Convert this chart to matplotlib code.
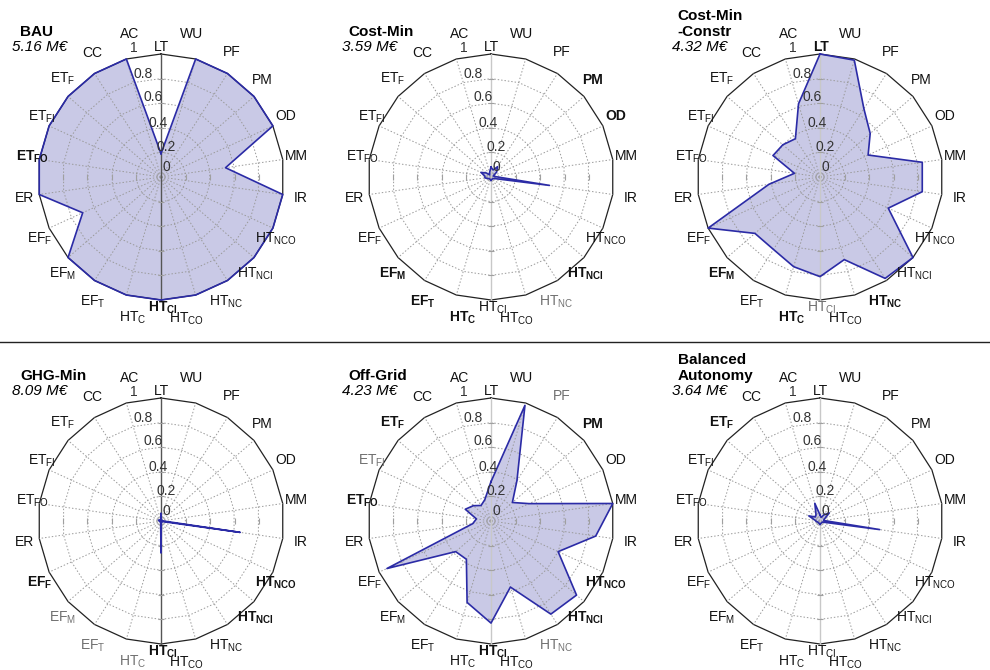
import numpy as np
import matplotlib
matplotlib.use("Agg")
import matplotlib.pyplot as plt
from matplotlib.lines import Line2D

plt.rcParams['font.family'] = ['Liberation Sans', 'DejaVu Sans']
plt.rcParams['mathtext.fontset'] = 'custom'
plt.rcParams['mathtext.rm'] = 'Liberation Sans'
plt.rcParams['mathtext.it'] = 'Liberation Sans:italic'
plt.rcParams['mathtext.bf'] = 'Liberation Sans:bold'

# ---------------- data ----------------
categories = ['LT', 'WU', 'PF', 'PM', 'OD', 'MM', 'IR',
              r'HT$_\mathregular{NCO}$', r'HT$_\mathregular{NCI}$', r'HT$_\mathregular{NC}$',
              r'HT$_\mathregular{CO}$', r'HT$_\mathregular{CI}$', r'HT$_\mathregular{C}$',
              r'EF$_\mathregular{T}$', r'EF$_\mathregular{M}$', r'EF$_\mathregular{F}$', 'ER',
              r'ET$_\mathregular{FO}$', r'ET$_\mathregular{FI}$', r'ET$_\mathregular{F}$', 'CC', 'AC']

titles = ['BAU', 'Cost-Min', 'Cost-Min\n-Constr', 'GHG-Min', 'Off-Grid', 'Balanced\nAutonomy']
costs = [5.16, 3.59, 4.32, 8.09, 4.23, 3.64]

bau = [0.19, 1.00, 1.00, 1.00, 1.00, 0.53, 1.00, 1.00, 1.00, 1.00, 1.00,
       1.00, 1.00, 1.00, 1.00, 0.70, 1.00, 1.00, 1.00, 1.00, 1.00, 1.00]
cost_min = [0.08, 0.06, 0.10, 0.06, 0.02, 0.03, 0.48, 0.03, 0.02, 0.02, 0.02,
            0.03, 0.02, 0.02, 0.02, 0.03, 0.05, 0.05, 0.09, 0.05, 0.02, 0.04]
cost_min_constr = [1.00, 0.99, 0.66, 0.54, 0.43, 0.84, 0.84, 0.61, 1.00, 0.98, 0.70,
                   0.81, 0.76, 0.70, 0.70, 1.00, 0.42, 0.21, 0.42, 0.40, 0.37, 0.62]
ghg_min = [0.06, 0.01, 0.01, 0.01, 0.01, 0.01, 0.65, 0.01, 0.01, 0.01, 0.01,
           0.26, 0.01, 0.01, 0.01, 0.01, 0.01, 0.02, 0.02, 0.01, 0.01, 0.01]
off_grid = [0.32, 0.98, 0.39, 0.23, 0.34, 1.00, 0.86, 0.60, 0.92, 0.90, 0.56,
            0.83, 0.69, 0.37, 0.38, 0.93, 0.15, 0.12, 0.23, 0.19, 0.15, 0.18]
balanced = [0.05, 0.03, 0.06, 0.10, 0.04, 0.03, 0.49, 0.02, 0.02, 0.02, 0.02,
            0.03, 0.02, 0.02, 0.02, 0.02, 0.03, 0.04, 0.10, 0.05, 0.06, 0.15]
series = [bau, cost_min, cost_min_constr, ghg_min, off_grid, balanced]

r_ticks = [0, 0.2, 0.4, 0.6, 0.8, 1]
r_tick_labels = ['0', '0.2', '0.4', '0.6', '0.8', '1']

# ---------------- layout / style ----------------
W, H = 990, 670
R = 123
centers = [(161, 177), (491, 177), (820, 177), (161, 521), (491, 521), (820, 521)]
title_x = [20, 348, 677, 20, 348, 678]
cost_x = [12, 342, 672, 12, 342, 672]

# label positions (angle deg, radius)
lab_pos = [(0.4, 1.06), (12.1, 1.19), (29.4, 1.17), (46.1, 1.14), (63.8, 1.13),
           (81.2, 1.11), (98.5, 1.15), (118.5, 1.06), (135.6, 1.10), (152.5, 1.14),
           (169.7, 1.17), (179.1, 1.06), (191.5, 1.17), (208.7, 1.16), (225.6, 1.12),
           (242.9, 1.11), (261.3, 1.12), (278.7, 1.06), (296.8, 1.09), (315.0, 1.13),
           (331.0, 1.15), (347.5, 1.19)]
tick_pos = [(26.6, 0.09), (9.2, 0.25), (-3.1, 0.44), (-5.7, 0.65), (-9.8, 0.85), (-12.1, 1.07)]

bold_sets = [{17, 11}, {3, 4, 8, 12, 13, 14}, {0, 12, 14, 9}, {15, 11, 7, 8},
             {3, 19, 17, 7, 11, 8}, {19}]
gray_sets = [set(), {9}, {11}, {14, 13, 12}, {2, 18, 9}, set()]
axis_color = ['#555555', '#c8c8c8', '#c8c8c8', '#555555', '#c8c8c8', '#c8c8c8']

fill_c = '#c9c9e6'
edge_c = '#2b2ba6'

fig = plt.figure(figsize=(W / 100, H / 100), dpi=100)

n = len(categories)
theta = np.linspace(0, 2 * np.pi, n, endpoint=False)
theta_c = np.concatenate([theta, theta[:1]])

for k in range(6):
    cx, cy = centers[k]
    ax = fig.add_axes([(cx - R) / W, (H - cy - R) / H, 2 * R / W, 2 * R / H],
                      projection='polar')
    ax.set_theta_zero_location('N')
    ax.set_theta_direction(-1)
    ax.set_ylim(0, 1)
    ax.set_axis_off()

    vals = np.array(series[k])
    vals_c = np.concatenate([vals, vals[:1]])
    ax.fill(theta_c, vals_c, facecolor=fill_c, edgecolor='none', zorder=1, clip_on=False)

    # ring grid (polygonal)
    for rv in [0.2, 0.4, 0.6, 0.8]:
        ax.plot(theta_c, np.full_like(theta_c, rv), color='#9a9a9a', lw=0.7,
                ls=(0, (1.5, 2)), zorder=2, clip_on=False)
    ax.plot(theta_c, np.ones_like(theta_c), color='#222222', lw=0.9, zorder=2, clip_on=False)
    # spokes
    for j, t in enumerate(theta):
        if j in (0, 11):
            continue
        ax.plot([t, t], [0, 1], color='#9a9a9a', lw=0.7, ls=(0, (1.5, 2)), zorder=2,
                clip_on=False)
    ax.plot([0, 0], [0, 1], color=axis_color[k], lw=1.0, zorder=2, clip_on=False)
    ax.plot([np.pi, np.pi], [0, 1], color=axis_color[k], lw=1.0, zorder=2, clip_on=False)
    # small axis ticks
    for rv in [0.2, 0.4, 0.6, 0.8]:
        for t, m in [(0, '_'), (np.pi, '_'), (np.pi / 2, '|'), (3 * np.pi / 2, '|')]:
            ax.plot([t], [rv], marker=m, ms=4, color='#a0a0a0', mew=0.8, zorder=2,
                    clip_on=False)

    ax.plot(theta_c, vals_c, color=edge_c, lw=1.2, zorder=4, clip_on=False)

    # category labels
    for j, lab in enumerate(categories):
        a, rr = lab_pos[j]
        fw = 'bold' if j in bold_sets[k] else 'normal'
        col = '#707070' if j in gray_sets[k] else '#111111'
        ax.text(np.deg2rad(a), rr, lab, ha='center', va='center', fontsize=10,
                fontweight=fw, color=col, clip_on=False, zorder=5)
    # radial tick labels
    for (a, rr), tl in zip(tick_pos, r_tick_labels):
        ax.text(np.deg2rad(a), rr, tl, ha='center', va='center', fontsize=10,
                color='#333333', clip_on=False, zorder=5)

    # titles
    fig.text(title_x[k] / W, 1 - (cy - 138) / H, titles[k], ha='left', va='bottom',
             fontsize=11, fontweight='bold', linespacing=1.15)
    fig.text(cost_x[k] / W, 1 - (cy - 130) / H, f'{costs[k]:.2f} M€', ha='left',
             va='center', fontsize=11, fontstyle='italic')

fig.add_artist(Line2D([0, 1], [1 - 342 / H, 1 - 342 / H], transform=fig.transFigure,
                      color='#222222', lw=1.0))

fig.savefig('out.png', dpi=100, facecolor='white')
